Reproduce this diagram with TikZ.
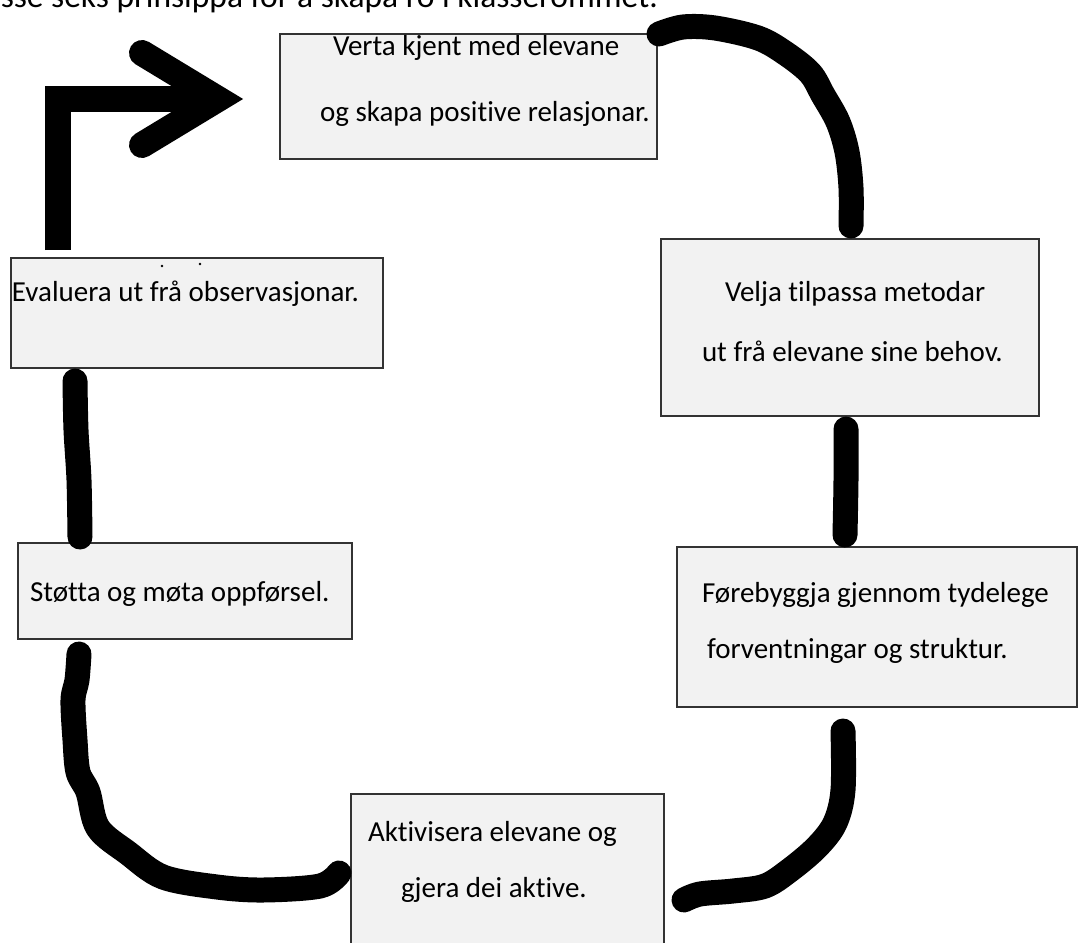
\documentclass[tikz,border=0pt]{standalone}
\usepackage{fontspec}
\setmainfont{Carlito}[Ligatures={NoCommon,NoContextual}]
\definecolor{boxgray}{HTML}{F2F2F2}
\begin{document}
\begin{tikzpicture}[x=1pt,y=-1pt,
  box/.style={draw=black!80, line width=1.5pt, fill=boxgray, inner sep=0pt, outer sep=0pt, anchor=north west},
  txt/.style={anchor=base west, inner sep=0pt, outer sep=0pt, font=\fontsize{29}{35}\selectfont},
  curve/.style={line width=25pt, line cap=round, line join=round},
  bigarrow/.style={line width=26pt, line cap=butt, line join=miter}]
\clip (0,0) rectangle (1081,942);
\fill[white] (0,0) rectangle (1081,942);

% heading (cut off at the top)
\node[anchor=base east, inner sep=0pt, font=\fontsize{33.5}{40}\selectfont] (head) at (658,8) {Desse seks prinsippa for å skapa ro i klasserommet.};

% boxes
\node[box, minimum width=377, minimum height=125] (verta) at (280,34) {};
\node[box, minimum width=378, minimum height=177] (velja) at (661,239) {};
\node[box, minimum width=400, minimum height=160] (fore) at (677,547) {};
\node[box, minimum width=313, minimum height=170] (akt) at (351,794) {};
\node[box, minimum width=334, minimum height=96] (stotta) at (18,543) {};
\node[box, minimum width=372, minimum height=110] (eval) at (11,258) {};

% texts
\node[txt] (t1a) at (333,56) {Verta kjent med elevane};
\node[txt] (t1b) at (320,121) {og skapa positive relasjonar.};
\node[txt] (t2a) at (725,301) {Velja tilpassa metodar};
\node[txt] (t2b) at (702,361) {ut frå elevane sine behov.};
\node[txt] (t3a) at (702,602) {Førebyggja gjennom tydelege};
\node[txt] (t3b) at (707,658) {forventningar og struktur.};
\node[txt] (t4a) at (368,841) {Aktivisera elevane og};
\node[txt] (t4b) at (401,897) {gjera dei aktive.};
\node[txt] (t5) at (30,601) {Støtta og møta oppførsel.};
\node[txt] (t6) at (12,301) {Evaluera ut frå observasjonar.};
\fill (162,266) circle (1.3);
\fill (200,264) circle (1.3);

% connector end points
\coordinate (c1a) at (659,34);
\coordinate (c1b) at (851,226);
\coordinate (c2a) at (846,429);
\coordinate (c2b) at (845,535);
\coordinate (c3a) at (843,731);
\coordinate (c3b) at (684,900);
\coordinate (c4a) at (339,873);
\coordinate (c4b) at (79,654);
\coordinate (c5a) at (80,537);
\coordinate (c5b) at (75,381);
\coordinate (c6a) at (58,250);
\coordinate (c6b) at (215,99);

% hand-drawn connectors
\draw[curve] plot[smooth, tension=0.55] coordinates {(c1a) (683,27) (715,28) (758,38) (785,53) (810,73) (823,95) (838,122) (847,152) (851,188) (c1b)};
\draw[curve] plot[smooth, tension=0.5] coordinates {(c2a) (846,480) (c2b)};
\draw[curve] plot[smooth, tension=0.55] coordinates {(c3a) (843,790) (835,823) (817,847) (790,870) (765,886) (733,891) (700,894) (c3b)};
\draw[curve] plot[smooth, tension=0.55] coordinates {(c4a) (320,886) (263,890) (217,887) (163,877) (128,853) (98,828) (88,792) (78,772) (75,740) (73,700) (77,680) (c4b)};
\draw[curve] plot[smooth, tension=0.5] coordinates {(c5a) (79,480) (76,430) (c5b)};

% bent arrow to the first box
\draw[bigarrow] (c6a) -- (58,99) -- (c6b);
\draw[bigarrow, line cap=round] (142,53) -- (218,99) -- (142,145);
\end{tikzpicture}
\end{document}
